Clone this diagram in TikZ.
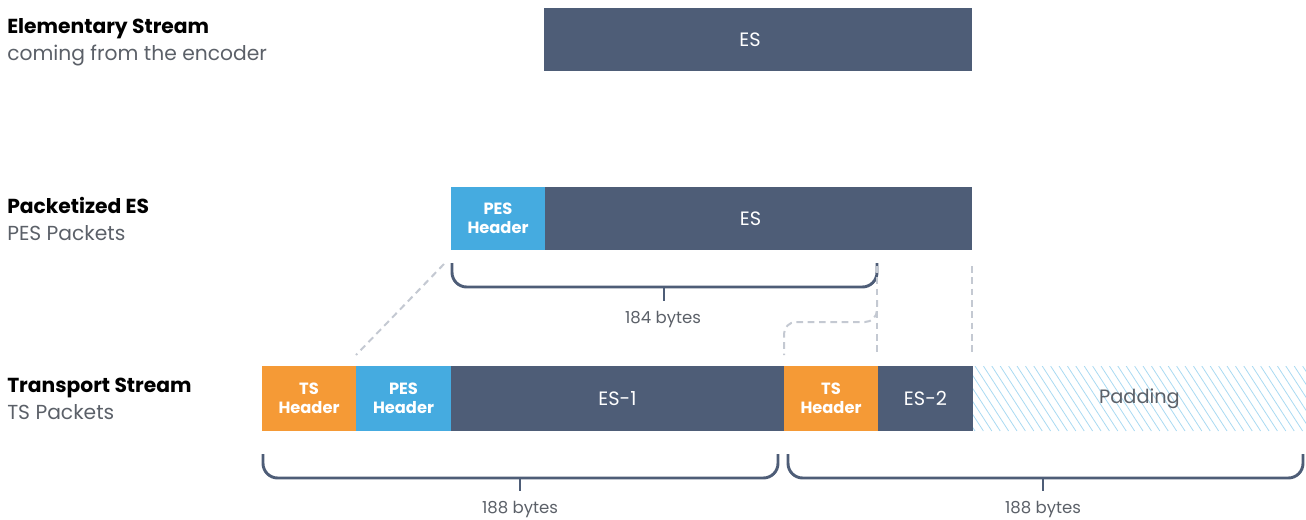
\documentclass[tikz,border=0pt]{standalone}
\usepackage{fontspec}
\setmainfont{Poppins}
\definecolor{slate}{HTML}{4E5D77}
\definecolor{pesblue}{HTML}{45ABE0}
\definecolor{tsorange}{HTML}{F59A36}
\definecolor{hatchblue}{HTML}{A9DAF2}
\definecolor{labelgray}{HTML}{5B6068}
\definecolor{dashgray}{HTML}{C4C9D2}
\begin{document}
\begin{tikzpicture}[x=0.75pt,y=-0.75pt,
  box/.style={inner sep=0pt, outer sep=0pt, draw=none, text=white, align=center},
  esbox/.style={box, fill=slate, font=\fontsize{14.5}{17}\selectfont},
  hdrbox/.style={box, font=\bfseries\fontsize{12.2}{14.3}\selectfont},
  title/.style={anchor=base west, inner sep=0pt, font=\bfseries\fontsize{15.2}{18}\selectfont, text=black},
  sub/.style={anchor=base west, inner sep=0pt, font=\fontsize{15.2}{18}\selectfont, text=labelgray},
  bytes/.style={inner sep=0pt, font=\fontsize{12.4}{14}\selectfont, text=labelgray},
  bracket/.style={draw=slate, line width=2.2pt, rounded corners=11pt},
  guide/.style={draw=dashgray, line width=1.5pt, dash pattern=on 5pt off 3.5pt}
]
\useasboundingbox (0,0) rectangle (1306,519);

% left labels
\node[title] (t1) at (7,33) {Elementary Stream};
\node[sub] (s1) at (7,60) {coming from the encoder};
\node[title] (t2) at (7,213) {Packetized ES};
\node[sub] (s2) at (7,240) {PES Packets};
\node[title] (t3) at (7,392) {Transport Stream};
\node[sub] (s3) at (7,419) {TS Packets};

% top row
\node[esbox, minimum width=321pt, minimum height=47.25pt] (es0) at (758,39.5) {\hspace*{-12pt}ES};

% PES row
\node[hdrbox, fill=pesblue, minimum width=70.5pt, minimum height=47.25pt] (pesh) at (498,218.5) {PES\\Header};
\node[esbox, minimum width=320.25pt, minimum height=47.25pt] (es1) at (758.5,218.5) {\hspace*{-12pt}ES};

% padding hatch
\begin{scope}
  \clip (973,366) rectangle (1306,431);
  \foreach \i in {0,...,45} {
    \draw[hatchblue, line width=0.6pt] (933+\i*8.4,366) -- ++(42,65);
  }
\end{scope}

% TS row
\node[hdrbox, fill=tsorange, minimum width=70.5pt, minimum height=48.75pt] (ts1) at (309,398.5) {TS\\Header};
\node[hdrbox, fill=pesblue, minimum width=71.25pt, minimum height=48.75pt] (pes2) at (403.5,398.5) {PES\\Header};
\node[esbox, minimum width=249.75pt, minimum height=48.75pt] (esa) at (617.5,398.5) {ES-1};
\node[hdrbox, fill=tsorange, minimum width=70.5pt, minimum height=48.75pt] (ts2) at (831,398.5) {TS\\Header};
\node[esbox, minimum width=71.25pt, minimum height=48.75pt] (esb) at (925.5,398.5) {ES-2};
\node[box, text=labelgray, font=\fontsize{14.5}{17}\selectfont, minimum width=249.75pt, minimum height=48.75pt] (pad) at (1139.5,398.5) {Padding};

% brackets
\coordinate (b1l) at (452,263);
\coordinate (b1r) at (877,263);
\coordinate (b1m) at (664,287);
\draw[bracket] (b1l) -- (452,287) -- (877,287) -- (b1r);
\draw[slate, line width=2.2pt] (b1m) -- ++(0,14);
\node[bytes] (n184) at (663,320) {184 bytes};

\coordinate (b2l) at (263,454);
\coordinate (b2r) at (778,454);
\coordinate (b2m) at (520,478);
\draw[bracket] (b2l) -- (263,478) -- (778,478) -- (b2r);
\draw[slate, line width=2.2pt] (b2m) -- ++(0,13);
\node[bytes] (n188a) at (520,510) {188 bytes};

\coordinate (b3l) at (788,454);
\coordinate (b3r) at (1303,454);
\coordinate (b3m) at (1043,478);
\draw[bracket] (b3l) -- (788,478) -- (1303,478) -- (b3r);
\draw[slate, line width=2.2pt] (b3m) -- ++(0,13);
\node[bytes] (n188b) at (1043,510) {188 bytes};

% guide lines
\coordinate (g1a) at (444,264);
\coordinate (g1b) at (356,355);
\draw[guide] (g1a) -- (g1b);
\coordinate (g2a) at (877,266);
\coordinate (g2b) at (877,355);
\draw[guide] (g2a) -- (g2b);
\coordinate (g3a) at (972,266);
\coordinate (g3b) at (972,355);
\draw[guide] (g3a) -- (g3b);
\coordinate (g4a) at (877,300);
\coordinate (g4b) at (784,355);
\draw[guide, rounded corners=9pt] (g4a) -- (877,322) -- (784,322) -- (g4b);
\end{tikzpicture}
\end{document}
